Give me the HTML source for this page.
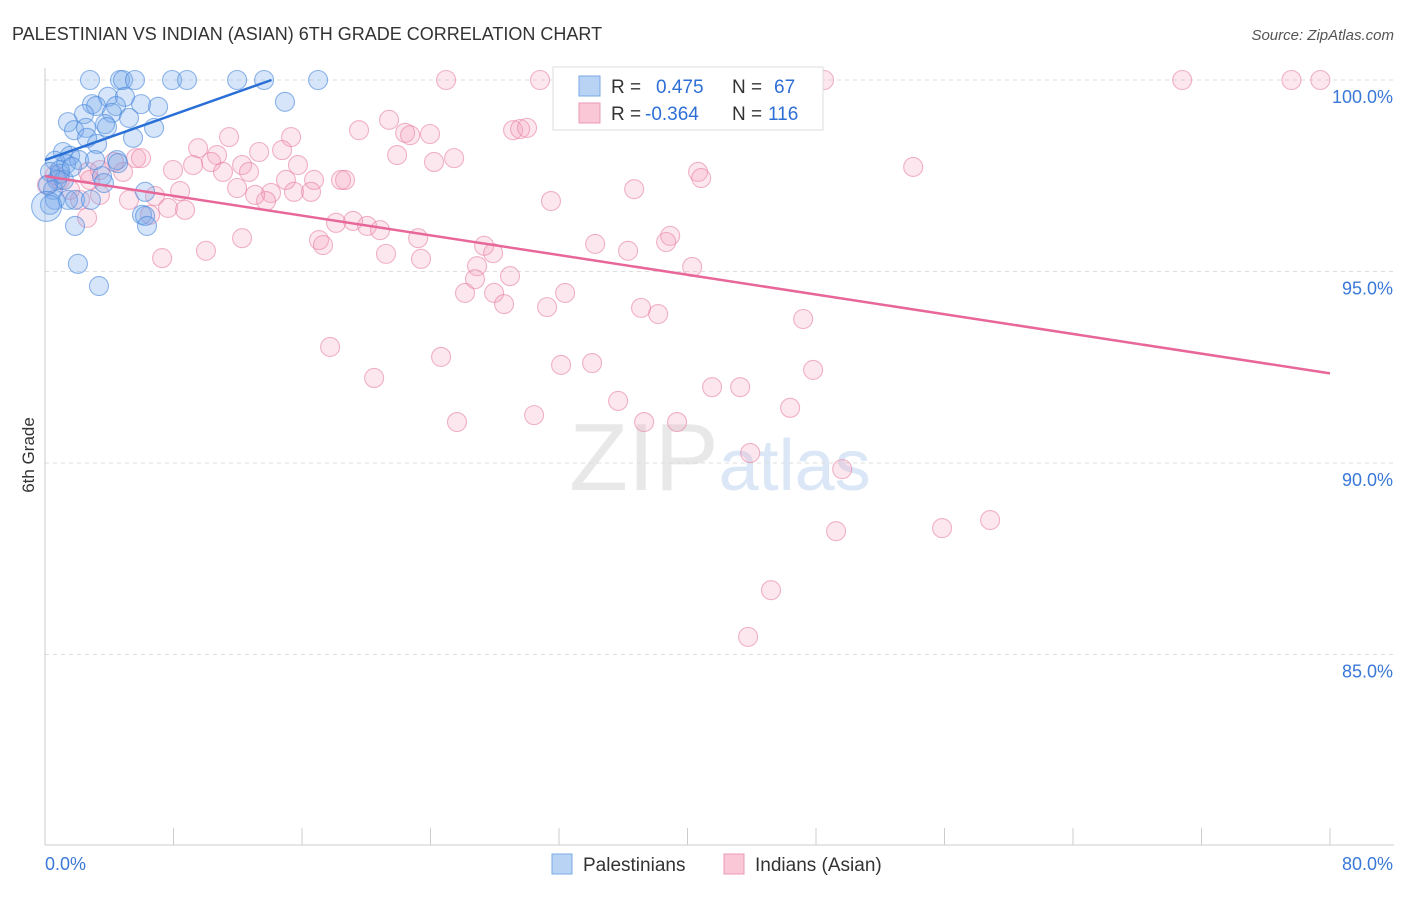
<!DOCTYPE html>
<html><head><meta charset="utf-8"><style>
body{margin:0;background:#fff;font-family:"Liberation Sans",sans-serif;}
svg text{font-family:"Liberation Sans",sans-serif;}
</style></head><body>
<svg id="chart" width="1406" height="892" xmlns="http://www.w3.org/2000/svg">
<text x="12" y="40" font-size="18" fill="#333">PALESTINIAN VS INDIAN (ASIAN) 6TH GRADE CORRELATION CHART</text>
<text x="1394" y="40" font-size="15" fill="#555" text-anchor="end" font-style="italic">Source: ZipAtlas.com</text>
<text x="720" y="490" font-size="96" fill="#e8e8e8" text-anchor="middle" font-family="Liberation Serif">ZIP<tspan fill="#dbe7f6" font-family="Liberation Sans" font-size="72">atlas</tspan></text>
<g id="grid"></g>
<g id="axes"></g>
<g id="pts"></g>
<g id="lines"></g>
<text transform="translate(34,455) rotate(-90)" font-size="17" fill="#333" text-anchor="middle">6th Grade</text>
<g>
<rect x="553" y="67" width="270" height="63" fill="#fff" stroke="#ddd"/>
<rect x="579" y="76" width="21" height="20" fill="#b9d3f5" stroke="#7aaae6"/>
<rect x="579" y="103" width="21" height="20" fill="#f9c7d6" stroke="#ec9ab5"/>
<text x="611" y="93" font-size="19" fill="#333">R = </text><text x="656" y="93" font-size="19" fill="#2d6fd6">0.475</text>
<text x="732" y="93" font-size="19" fill="#333">N = </text><text x="774" y="93" font-size="19" fill="#2d6fd6">67</text>
<text x="611" y="120" font-size="19" fill="#333">R = </text><text x="645" y="120" font-size="19" fill="#2d6fd6">-0.364</text>
<text x="732" y="120" font-size="19" fill="#333">N = </text><text x="768" y="120" font-size="19" fill="#2d6fd6">116</text>
</g>
<g>
<rect x="552" y="854" width="20" height="20" fill="#b9d3f5" stroke="#7aaae6"/>
<text x="583" y="871" font-size="19" fill="#333">Palestinians</text>
<rect x="724" y="854" width="20" height="20" fill="#f9c7d6" stroke="#ec9ab5"/>
<text x="755" y="871" font-size="19" fill="#333">Indians (Asian)</text>
</g>
</svg>
<script>
const blueX=[2.8,4.67,4.86,5.6,7.91,8.84,11.96,13.64,17.0,14.94,3.92,4.98,2.93,3.18,4.42,5.98,7.04,2.43,4.17,5.23,1.43,1.81,2.55,3.74,3.86,6.79,5.48,2.62,3.24,1.12,1.56,0.62,2.12,1.31,4.48,0.31,0.93,3.55,3.67,0.75,0.5,1.18,6.23,0.62,1.43,1.87,2.86,6.04,6.23,6.35,1.87,2.05,3.36,0.31,0.19,0.93,1.68,3.11,4.55,0.1];
const blueY=[100,100,100,100,100,100,100,100,100,99.43,99.56,99.56,99.37,99.32,99.32,99.37,99.3,99.11,99.14,99.01,98.9,98.69,98.75,98.85,98.77,98.75,98.49,98.49,98.33,98.12,98.02,97.89,97.91,97.81,97.91,97.6,97.55,97.49,97.31,97.39,97.13,97.39,97.08,96.87,96.87,96.87,96.87,96.48,96.45,96.19,96.19,95.2,94.62,96.74,97.26,97.65,97.73,97.91,97.83,96.7];
const pinkX=[24.97,30.82,48.5,70.8,77.6,79.4,21.42,19.55,22.42,22.73,23.97,29.14,29.58,30.01,11.46,15.32,9.53,14.76,13.33,21.92,25.47,24.22,54.05,10.71,10.34,12.27,15.75,5.67,5.98,7.97,9.22,12.7,11.08,4.86,2.68,3.42,4.3,16.75,15.0,18.68,18.43,40.66,40.85,36.68,11.96,8.41,6.85,14.07,15.5,13.76,13.08,16.56,31.5,7.66,8.72,6.54,2.62,19.18,18.12,20.05,20.86,12.27,17.06,17.31,23.23,38.92,38.67,34.25,36.3,27.34,27.9,21.23,23.41,7.29,10.02,26.9,40.29,28.95,26.77,26.15,27.96,28.58,32.38,31.26,37.11,38.17,47.2,17.75,24.66,32.13,34.06,20.49,41.53,43.28,47.82,35.68,46.39,30.45,25.65,37.3,39.35,43.9,49.63,49.25,55.85,58.84,45.2,43.77,0.93,1.56,2.18,3.42,5.23,2.8,0.12,0.62];
const pinkY=[100,100,100,100,100,100,98.96,98.69,98.62,98.56,98.59,98.69,98.72,98.75,98.51,98.51,98.22,98.17,98.12,98.04,97.96,97.86,97.73,98.04,97.86,97.78,97.78,97.96,97.96,97.65,97.78,97.6,97.6,97.6,97.6,97.65,97.86,97.39,97.39,97.39,97.39,97.6,97.44,97.15,97.18,97.1,96.97,97.05,97.08,96.84,97.0,97.08,96.84,96.66,96.61,96.48,96.4,96.32,96.27,96.19,96.08,95.87,95.82,95.69,95.87,95.93,95.77,95.72,95.54,95.67,95.48,95.46,95.33,95.35,95.54,95.14,95.12,94.88,94.8,94.44,94.44,94.15,94.44,94.07,94.05,93.89,93.76,93.03,92.77,92.56,92.61,92.22,91.98,91.98,92.43,91.62,91.44,91.25,91.07,91.07,91.07,90.26,89.84,88.22,88.3,88.51,86.68,85.46,97.39,97.13,96.87,97.0,96.87,97.39,97.26,97.52];
const blueTrend=[[0,97.91],[14.1,100]];
const pinkTrend=[[0,97.49],[80,92.34]];
const yTicks=[100,95,90,85];
const yTickLabels=["100.0%","95.0%","90.0%","85.0%"];
const xTickCount=10;

const NS="http://www.w3.org/2000/svg";
const sx=v=>45+v*(1285/80);
const sy=v=>80+(100-v)*38.3;
function mk(tag,attrs,parent){const e=document.createElementNS(NS,tag);for(const k in attrs)e.setAttribute(k,attrs[k]);document.getElementById(parent).appendChild(e);return e;}
yTicks.forEach((t,i)=>{
  const g=mk('line',{x1:45,x2:1394,y1:sy(t),y2:sy(t),stroke:'#ddd','stroke-dasharray':'4,4'},'grid');
  
  
  const l=mk('text',{x:1393,y:sy(t)+23,'font-size':18,fill:'#3a78d8','text-anchor':'end'},'grid');
  l.textContent=yTickLabels[i];
  
  
});
const ax=mk('line',{x1:45,x2:45,y1:68,y2:845,stroke:'#ccc'},'axes');


const bx=mk('line',{x1:45,x2:1394,y1:845,y2:845,stroke:'#ccc'},'axes');


for(let i=1;i<=xTickCount;i++){
  const t=mk('line',{x1:sx(i*8),x2:sx(i*8),y1:828,y2:845,stroke:'#ccc'},'axes');
  
  
}
const x0=mk('text',{x:45,y:870,'font-size':18,fill:'#3a78d8'},'axes');x0.textContent='0.0%';


const x1=mk('text',{x:1393,y:870,'font-size':18,fill:'#3a78d8','text-anchor':'end'},'axes');x1.textContent='80.0%';


pinkX.forEach((v,i)=>{
  const c=mk('circle',{cx:sx(v),cy:sy(pinkY[i]),r:9.5,fill:'rgba(244,160,188,0.25)',stroke:'rgba(232,130,165,0.6)','stroke-width':1.1},'pts');
  
  
});
blueX.forEach((v,i)=>{
  const c=mk('circle',{cx:sx(v),cy:sy(blueY[i]),r:i===blueX.length-1?15:9.5,fill:'rgba(120,170,235,0.3)',stroke:'rgba(70,135,220,0.6)','stroke-width':1.1},'pts');
  
  
});
const bl=mk('line',{x1:sx(blueTrend[0][0]),y1:sy(blueTrend[0][1]),x2:sx(blueTrend[1][0]),y2:sy(blueTrend[1][1]),stroke:'#2a6fd6','stroke-width':2.5},'lines');


const pl=mk('line',{x1:sx(pinkTrend[0][0]),y1:sy(pinkTrend[0][1]),x2:sx(pinkTrend[1][0]),y2:sy(pinkTrend[1][1]),stroke:'#e8679a','stroke-width':2.5},'lines');


</script>
</body></html>
